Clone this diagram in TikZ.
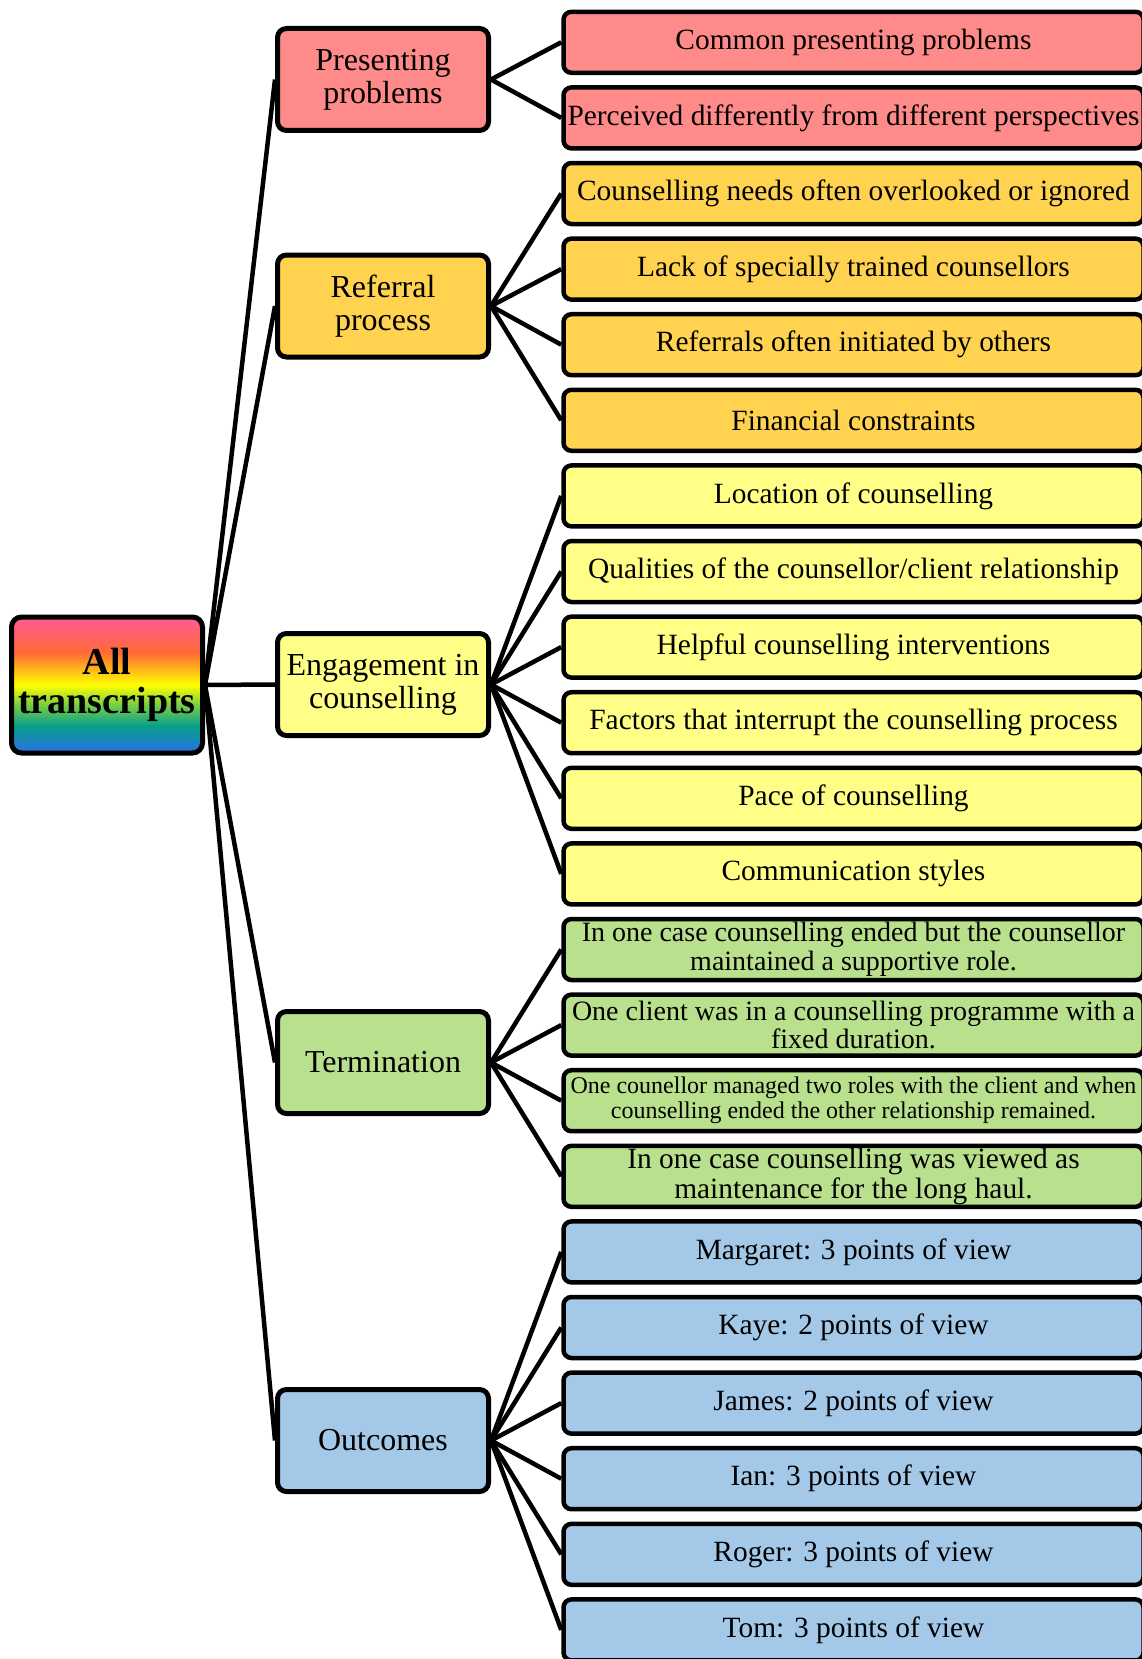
\documentclass[tikz,border=0pt]{standalone}
\usepackage{fontspec}
\setmainfont{Liberation Serif}

\definecolor{rbpink}{HTML}{FF5A96}
\definecolor{rborange}{HTML}{FF6A36}
\definecolor{rbyellow}{HTML}{FFFF00}
\definecolor{rbgreen}{HTML}{7CD040}
\definecolor{rbteal}{HTML}{08A08C}
\definecolor{rbblue}{HTML}{2A6FE6}
\definecolor{presentcol}{HTML}{FF8A8A}
\definecolor{referralcol}{HTML}{FFD24F}
\definecolor{engagecol}{HTML}{FFFF88}
\definecolor{termcol}{HTML}{B9E08C}
\definecolor{outcomecol}{HTML}{A4C8E8}

\pgfdeclareverticalshading{rainbow}{100bp}{color(0bp)=(rbblue); color(25bp)=(rbblue);
  color(35bp)=(rbteal); color(43bp)=(rbgreen); color(50bp)=(rbyellow);
  color(62bp)=(rborange); color(75bp)=(rbpink); color(100bp)=(rbpink)}

\begin{document}
\begin{tikzpicture}[x=1pt, y=-1pt,
            root/.style={draw, line width=5pt, rounded corners=10pt, shading=rainbow,
                         minimum width=191pt, minimum height=136pt, align=center,
                         font=\fontsize{38}{38.5}\selectfont\bfseries},
            theme/.style={draw, line width=5pt, rounded corners=9pt,
                          minimum width=211pt, minimum height=102pt, align=center,
                          font=\fontsize{32}{33}\selectfont},
            leaf/.style={draw, line width=4.5pt, rounded corners=8pt, inner sep=1pt,
                         minimum width=580pt, minimum height=61pt, align=center,
                         font=\fontsize{29.4}{30.5}\selectfont},
            small/.style={font=\fontsize{28}{28.5}\selectfont},
            tiny/.style={font=\fontsize{24}{25}\selectfont},
            link/.style={line width=4.5pt}
        ]
        \useasboundingbox (0,0) rectangle (1142,1659);

        % Root
        \node[root] (all) at (107,685) {All\\transcripts};

        % Themes
        \node[theme, fill=presentcol] (present) at (383,79.5) {Presenting\\problems};
        \node[theme, fill=referralcol] (referral) at (383,306) {Referral\\process};
        \node[theme, fill=engagecol] (engage) at (383,684.5) {Engagement in\\counselling};
        \node[theme, fill=termcol] (term) at (383,1062.5) {Termination};
        \node[theme, fill=outcomecol] (outcome) at (383,1440.5) {Outcomes};

        % Presenting problems
        \node[leaf, fill=presentcol] (p1) at (853.5,42.3) {Common presenting problems};
        \node[leaf, fill=presentcol] (p2) at (853.5,117.9) {Perceived differently from different perspectives};

        % Referral process
        \node[leaf, fill=referralcol] (r1) at (853.5,193.5) {Counselling needs often overlooked or ignored};
        \node[leaf, fill=referralcol] (r2) at (853.5,269.1) {Lack of specially trained counsellors};
        \node[leaf, fill=referralcol] (r3) at (853.5,344.7) {Referrals often initiated by others};
        \node[leaf, fill=referralcol] (r4) at (853.5,420.3) {Financial constraints};

        % Engagement in counselling
        \node[leaf, fill=engagecol] (e1) at (853.5,495.9) {Location of counselling};
        \node[leaf, fill=engagecol] (e2) at (853.5,571.5) {Qualities of the counsellor/client relationship};
        \node[leaf, fill=engagecol] (e3) at (853.5,647.1) {Helpful counselling interventions};
        \node[leaf, fill=engagecol] (e4) at (853.5,722.7) {Factors that interrupt the counselling process};
        \node[leaf, fill=engagecol] (e5) at (853.5,798.3) {Pace of counselling};
        \node[leaf, fill=engagecol] (e6) at (853.5,873.9) {Communication styles};

        % Termination
        \node[leaf, small, fill=termcol] (t1) at (853.5,949.5)
            {In one case counselling ended but the counsellor\\maintained a supportive role.};
        \node[leaf, small, fill=termcol] (t2) at (853.5,1025.1)
            {One client was in a counselling programme with a\\fixed duration.};
        \node[leaf, tiny, fill=termcol] (t3) at (853.5,1100.7)
            {One counellor managed two roles with the client and when\\counselling ended the other relationship remained.};
        \node[leaf, fill=termcol] (t4) at (853.5,1176.3)
            {In one case counselling was viewed as\\maintenance for the long haul.};

        % Outcomes
        \node[leaf, fill=outcomecol] (o1) at (853.5,1251.9) {Margaret: 3 points of view};
        \node[leaf, fill=outcomecol] (o2) at (853.5,1327.5) {Kaye: 2 points of view};
        \node[leaf, fill=outcomecol] (o3) at (853.5,1403.1) {James: 2 points of view};
        \node[leaf, fill=outcomecol] (o4) at (853.5,1478.7) {Ian: 3 points of view};
        \node[leaf, fill=outcomecol] (o5) at (853.5,1554.3) {Roger: 3 points of view};
        \node[leaf, fill=outcomecol] (o6) at (853.5,1629.9) {Tom: 3 points of view};

        % Root to themes
        \draw[link] (all.east) -- (present.west);
        \draw[link] (all.east) -- (referral.west);
        \draw[link] (all.east) -- (engage.west);
        \draw[link] (all.east) -- (term.west);
        \draw[link] (all.east) -- (outcome.west);

        % Themes to subthemes
        \draw[link] (present.east) -- (p1.west);
        \draw[link] (present.east) -- (p2.west);
        \draw[link] (referral.east) -- (r1.west);
        \draw[link] (referral.east) -- (r2.west);
        \draw[link] (referral.east) -- (r3.west);
        \draw[link] (referral.east) -- (r4.west);
        \draw[link] (engage.east) -- (e1.west);
        \draw[link] (engage.east) -- (e2.west);
        \draw[link] (engage.east) -- (e3.west);
        \draw[link] (engage.east) -- (e4.west);
        \draw[link] (engage.east) -- (e5.west);
        \draw[link] (engage.east) -- (e6.west);
        \draw[link] (term.east) -- (t1.west);
        \draw[link] (term.east) -- (t2.west);
        \draw[link] (term.east) -- (t3.west);
        \draw[link] (term.east) -- (t4.west);
        \draw[link] (outcome.east) -- (o1.west);
        \draw[link] (outcome.east) -- (o2.west);
        \draw[link] (outcome.east) -- (o3.west);
        \draw[link] (outcome.east) -- (o4.west);
        \draw[link] (outcome.east) -- (o5.west);
        \draw[link] (outcome.east) -- (o6.west);

        \end{tikzpicture}
\end{document}
